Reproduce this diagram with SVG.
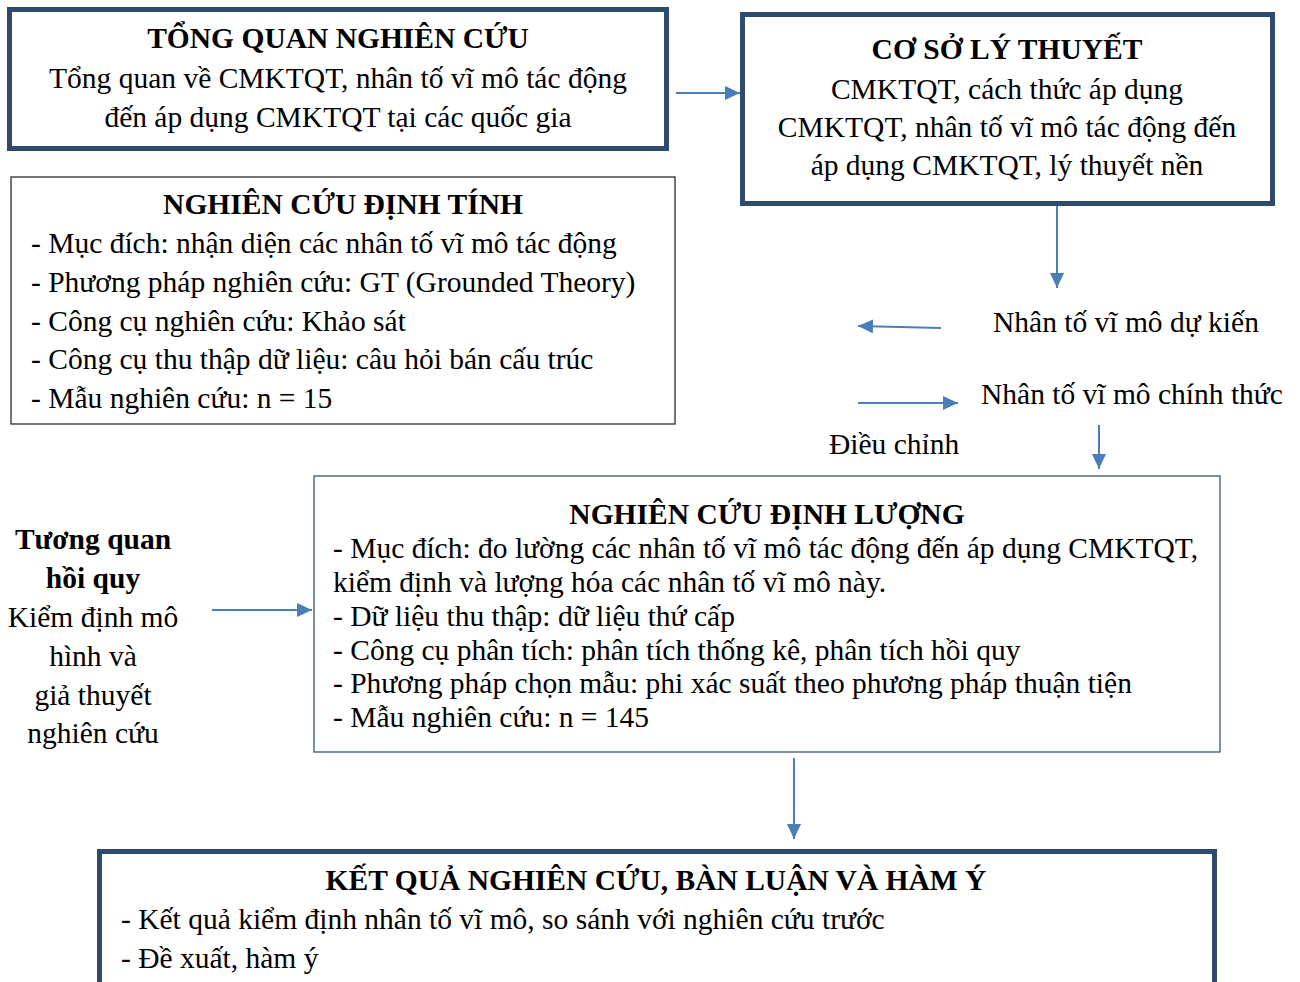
<svg xmlns="http://www.w3.org/2000/svg" width="1300" height="982" viewBox="0 0 1300 982">
  <style>
    text { font-family: "Liberation Serif", "Times New Roman", serif; font-size: 29.5px; fill: #000; }
    .title { font-weight: bold; text-anchor: middle; }
    .mid { text-anchor: middle; }
    .thick { fill: #fff; stroke: #2E4A6C; stroke-width: 5; }
    .thin { fill: #fff; stroke: #2B2B2B; stroke-width: 1.3; }
    .thin2 { fill: #fff; stroke: #3E5270; stroke-width: 1.3; }
    .conn { stroke: #4A7EBB; stroke-width: 2; fill: none; marker-end: url(#arrow); }
  </style>
  <defs>
    <marker id="arrow" markerUnits="userSpaceOnUse" markerWidth="16" markerHeight="14" refX="15" refY="7" orient="auto">
      <path d="M0,0 L15,7 L0,14 Z" fill="#4A7EBB"/>
    </marker>
  </defs>
  <rect width="1300" height="982" fill="#fff"/>

  <!-- connectors -->
  <g id="connectors">
    <line class="conn" x1="676" y1="93" x2="740" y2="93"/>
    <line class="conn" x1="1057" y1="205" x2="1057" y2="288"/>
    <line class="conn" x1="941" y1="328" x2="858" y2="326"/>
    <line class="conn" x1="858" y1="403" x2="958" y2="403"/>
    <line class="conn" x1="1099" y1="425" x2="1099" y2="469"/>
    <line class="conn" x1="212" y1="610" x2="312" y2="610"/>
    <line class="conn" x1="794" y1="758" x2="794" y2="839"/>
  </g>

  <!-- literature review -->
  <g id="tong-quan">
    <rect class="thick" x="9.5" y="9.5" width="657" height="139"/>
    <text class="title" x="338" y="48">TỔNG QUAN NGHIÊN CỨU</text>
    <text class="mid" x="338" y="88">Tổng quan về CMKTQT, nhân tố vĩ mô tác động</text>
    <text class="mid" x="338" y="127">đến áp dụng CMKTQT tại các quốc gia</text>
  </g>

  <!-- theoretical basis -->
  <g id="co-so-ly-thuyet">
    <rect class="thick" x="742.5" y="14.5" width="530" height="189"/>
    <text class="title" x="1007" y="59">CƠ SỞ LÝ THUYẾT</text>
    <text class="mid" x="1007" y="99">CMKTQT, cách thức áp dụng</text>
    <text class="mid" x="1007" y="137">CMKTQT, nhân tố vĩ mô tác động đến</text>
    <text class="mid" x="1007" y="175">áp dụng CMKTQT, lý thuyết nền</text>
  </g>

  <!-- qualitative study -->
  <g id="dinh-tinh">
    <rect class="thin" x="11" y="177" width="664" height="247"/>
    <text class="title" x="343" y="214">NGHIÊN CỨU ĐỊNH TÍNH</text>
    <text x="31" y="253">- Mục đích: nhận diện các nhân tố vĩ mô tác động</text>
    <text x="31" y="292">- Phương pháp nghiên cứu: GT (Grounded Theory)</text>
    <text x="31" y="331">- Công cụ nghiên cứu: Khảo sát</text>
    <text x="31" y="369">- Công cụ thu thập dữ liệu: câu hỏi bán cấu trúc</text>
    <text x="31" y="408">- Mẫu nghiên cứu: n = 15</text>
  </g>

  <!-- factor labels -->
  <g id="nhan-to-du-kien">
    <text x="993" y="332">Nhân tố vĩ mô dự kiến</text>
  </g>
  <g id="nhan-to-chinh-thuc">
    <text x="981" y="404">Nhân tố vĩ mô chính thức</text>
  </g>
  <g id="dieu-chinh">
    <text x="829" y="454">Điều chỉnh</text>
  </g>

  <!-- regression side note -->
  <g id="tuong-quan">
    <text class="title" x="93" y="549">Tương quan</text>
    <text class="title" x="93" y="588">hồi quy</text>
    <text class="mid" x="93" y="627">Kiểm định mô</text>
    <text class="mid" x="93" y="666">hình và</text>
    <text class="mid" x="93" y="705">giả thuyết</text>
    <text class="mid" x="93" y="743">nghiên cứu</text>
  </g>

  <!-- quantitative study -->
  <g id="dinh-luong">
    <rect class="thin2" x="314" y="476" width="906" height="276"/>
    <text class="title" x="767" y="524">NGHIÊN CỨU ĐỊNH LƯỢNG</text>
    <text x="333" y="558">- Mục đích: đo lường các nhân tố vĩ mô tác động đến áp dụng CMKTQT,</text>
    <text x="333" y="592">kiểm định và lượng hóa các nhân tố vĩ mô này.</text>
    <text x="333" y="626">- Dữ liệu thu thập: dữ liệu thứ cấp</text>
    <text x="333" y="660">- Công cụ phân tích: phân tích thống kê, phân tích hồi quy</text>
    <text x="333" y="693">- Phương pháp chọn mẫu: phi xác suất theo phương pháp thuận tiện</text>
    <text x="333" y="727">- Mẫu nghiên cứu: n = 145</text>
  </g>

  <!-- results -->
  <g id="ket-qua">
    <rect class="thick" x="99.5" y="851.5" width="1115" height="140"/>
    <text class="title" x="656" y="890">KẾT QUẢ NGHIÊN CỨU, BÀN LUẬN VÀ HÀM Ý</text>
    <text x="121" y="929">- Kết quả kiểm định nhân tố vĩ mô, so sánh với nghiên cứu trước</text>
    <text x="121" y="968">- Đề xuất, hàm ý</text>
  </g>
</svg>
